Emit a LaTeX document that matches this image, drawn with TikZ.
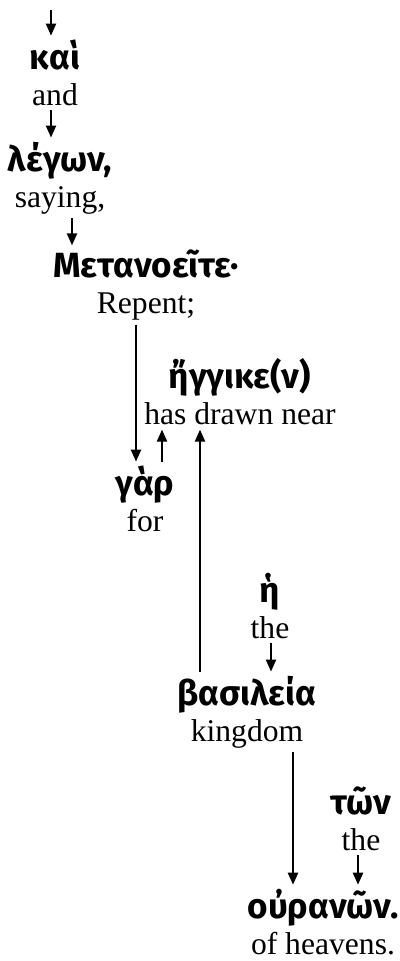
\documentclass[tikz,border=0pt]{standalone}
\usepackage{fontspec}
\setmainfont{Liberation Serif}
\newfontfamily\greekfont{Fira Sans}[Script=Greek]
\usetikzlibrary{arrows.meta}
% greek word over its gloss
\newcommand{\gw}[2]{{\greekfont\bfseries\fontsize{17.5}{18}\selectfont #1}\\#2}
\tikzset{
  word/.style={align=center, inner sep=2pt, font=\fontsize{15.8}{18}\selectfont},
  arr/.style={-{Triangle[length=6pt,width=5pt]}, line width=1.1pt}
}
\begin{document}
\begin{tikzpicture}[x=0.5pt,y=-0.5pt]
\useasboundingbox (0,0) rectangle (400,961);
\coordinate (top) at (51,10);
\node[word] (kai) at (55,73) {\gw{καὶ}{and}};
\node[word] (legon) at (60,178) {\gw{λέγων,}{saying,}};
\node[word] (metanoeite) at (146,285) {\gw{Μετανοεῖτε·}{Repent;}};
\node[word] (eggike) at (240,392) {\gw{ἤγγικε(ν)}{has drawn near}};
\node[word] (gar) at (145,499) {\gw{γὰρ}{for}};
\node[word] (he) at (270,606) {\gw{ἡ}{the}};
\node[word] (basileia) at (247,712) {\gw{βασιλεία}{kingdom}};
\node[word] (ton) at (361,819) {\gw{τῶν}{the}};
\node[word] (ouranon) at (323,922) {\gw{οὐρανῶν.}{of heavens.}};
\draw[arr] (top) -- (top |- kai.north);
\draw[arr] ([xshift=-2pt]kai.south) -- ([xshift=-2pt]kai.south |- legon.north);
\draw[arr] ([xshift=6pt]legon.south) -- ([xshift=6pt]legon.south |- metanoeite.north);
\draw[arr] ([xshift=-5pt]metanoeite.south) -- ([xshift=-5pt]metanoeite.south |- gar.north);
\draw[arr] ([xshift=8.5pt]gar.north) -- ([xshift=8.5pt]gar.north |- eggike.south);
\draw[arr] ([xshift=-23.5pt]basileia.north) -- ([xshift=-23.5pt]basileia.north |- eggike.south);
\draw[arr] ([xshift=0.5pt]he.south) -- ([xshift=0.5pt]he.south |- basileia.north);
\draw[arr] ([xshift=23pt]basileia.south) -- ([xshift=23pt]basileia.south |- ouranon.north);
\draw[arr] ([xshift=-1.5pt]ton.south) -- ([xshift=-1.5pt]ton.south |- ouranon.north);
\end{tikzpicture}
\end{document}
